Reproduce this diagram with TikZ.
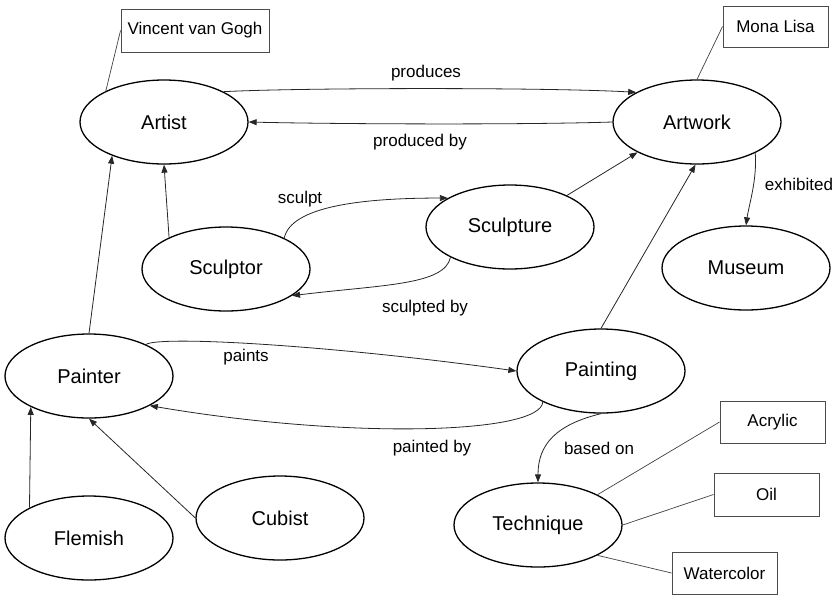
\documentclass[tikz,border=0pt]{standalone}
\usepackage{fontspec}
\setmainfont{Liberation Sans}
\usetikzlibrary{shapes.geometric,arrows.meta}
\tikzset{
  concept/.style={ellipse,draw=black,line width=1.3pt,minimum width=168pt,minimum height=84pt,inner sep=0pt,font=\fontsize{20}{24}\selectfont},
  valbox/.style={rectangle,draw=black!70,line width=0.9pt,inner sep=0pt,font=\fontsize{17}{20}\selectfont},
  rel/.style={draw=black!85,line width=0.8pt,-{Triangle[length=8pt,width=6pt]}},
  link/.style={draw=black!75,line width=0.7pt},
  lbl/.style={font=\fontsize{17}{20}\selectfont,inner sep=0pt}
}
\begin{document}
\begin{tikzpicture}[x=1pt,y=-1pt]
\useasboundingbox (0,0) rectangle (837,595);
% concepts
\node[concept] (artist) at (164,122) {Artist};
\node[concept] (artwork) at (697,122) {Artwork};
\node[concept] (sculptor) at (226,269) {Sculptor};
\node[concept] (sculpture) at (510,227) {Sculpture};
\node[concept] (museum) at (746,268) {Museum};
\node[concept] (painter) at (89,376) {Painter};
\node[concept] (painting) at (601,371) {Painting};
\node[concept] (flemish) at (89,538) {Flemish};
\node[concept] (cubist) at (280,518) {Cubist};
\node[concept] (technique) at (538,525) {Technique};
% value boxes
\node[valbox,minimum width=148pt,minimum height=43pt] (vincent) at (195,30.5) {Vincent van Gogh};
\node[valbox,minimum width=105pt,minimum height=41pt] (mona) at (775.5,26.5) {Mona Lisa};
\node[valbox,minimum width=105pt,minimum height=42pt] (acrylic) at (772.5,422) {Acrylic};
\node[valbox,minimum width=105pt,minimum height=43pt] (oil) at (766.5,494.5) {Oil};
\node[valbox,minimum width=105pt,minimum height=42pt] (watercolor) at (724.5,573) {Watercolor};
% relations
\draw[rel] (artist.27) .. controls +(75,-4) and +(-87,-5) .. (artwork.154);
\draw[rel] (artwork.west) .. controls +(-93,3) and +(82,2) .. (artist.east);
\draw[rel] (sculptor.151) -- (artist.south);
\draw[rel] (painter.north) -- (artist.213);
\draw[rel] (sculptor.28) .. controls +(7,-32) and +(-85,0) .. (sculpture.155);
\draw[rel] (sculpture.207) .. controls +(-6,28) and +(90,-11) .. (sculptor.338);
\draw[rel] (sculpture.29) -- (artwork.207);
\draw[rel] (painting.north) -- (artwork.268);
\draw[rel] (artwork.332) .. controls +(2,27) and +(3,-21) .. (museum.north);
\draw[rel] (painter.29) .. controls +(14,-9) and +(-187,-26) .. (painting.west);
\draw[rel] (painting.208) .. controls +(-2,32) and +(200,34) .. (painter.334);
\draw[rel] (painting.south) .. controls +(-45,11) and +(0,-38) .. (technique.north);
\draw[rel] (flemish.153) -- (painter.208);
\draw[rel] (cubist.west) -- (painter.south);
% value links
\draw[link] (artist.152) -- (vincent.west);
\draw[link] (artwork.north) -- (mona.west);
\draw[link] (technique.27) -- (acrylic.west);
\draw[link] (technique.east) -- (oil.west);
\draw[link] (technique.333) -- (watercolor.west);
% labels
\node[lbl] (lproduces) at (426,73) {produces};
\node[lbl] (lproducedby) at (420,142) {produced by};
\node[lbl] (lsculpt) at (300,199) {sculpt};
\node[lbl] (lsculptedby) at (425,308) {sculpted by};
\node[lbl] (lexhibited) at (799,184) {exhibited};
\node[lbl] (lpaints) at (246,357) {paints};
\node[lbl] (lpaintedby) at (432,448) {painted by};
\node[lbl] (lbasedon) at (599,448) {based on};
\end{tikzpicture}
\end{document}
